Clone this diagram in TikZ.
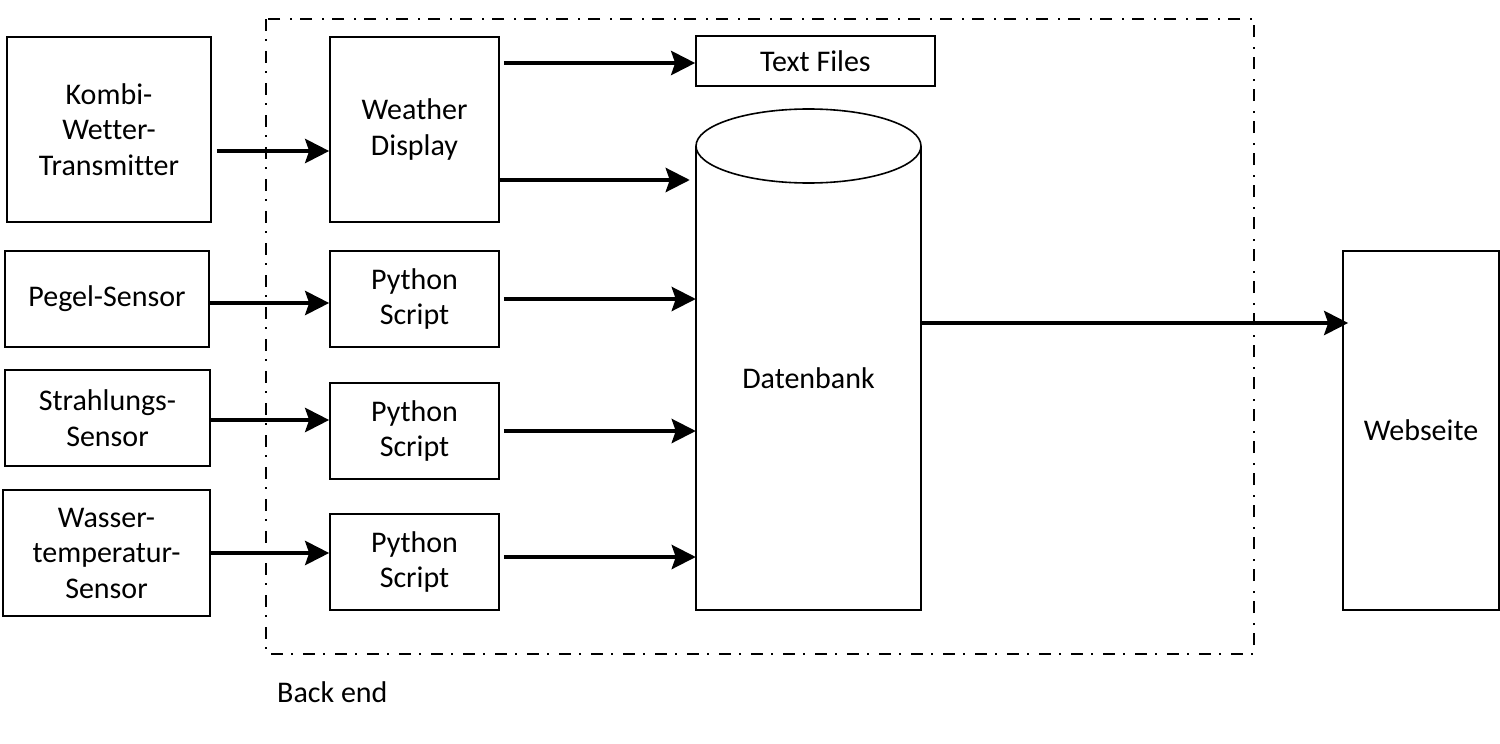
\documentclass[tikz,border=0pt]{standalone}
\usepackage{fontspec}
\setmainfont{Carlito}[Ligatures=NoCommon]
\usetikzlibrary{arrows.meta}
\begin{document}
\begin{tikzpicture}[x=1pt,y=-1pt,
  box/.style={draw,line width=1.6pt,inner sep=0pt,align=center,font=\fontsize{30}{35.5}\selectfont},
  arr/.style={line width=4.5pt,-{Stealth[length=24pt,width=24pt,inset=4pt]}},
  lbl/.style={font=\fontsize{30}{35.5}\selectfont,inner sep=0pt}]
\useasboundingbox (0,0) rectangle (1500,744);
% back end frame
\draw[line width=1.6pt,dash pattern=on 12pt off 8pt on 2pt off 10pt] (266,19) rectangle (1254,654);
\node[lbl,anchor=west] (be) at (277,692) {Back end};
% sources
\node[box,minimum width=204pt,minimum height=185pt] (kombi) at (109,129.5) {Kombi-\\Wetter-\\Transmitter};
\node[box,minimum width=204pt,minimum height=96pt] (pegel) at (107,299) {Pegel-Sensor};
\node[box,minimum width=205pt,minimum height=96pt] (strahl) at (107.5,418) {Strahlungs-\\Sensor};
\node[box,minimum width=207pt,minimum height=126pt] (wasser) at (106.5,553) {Wasser-\\temperatur-\\Sensor};
% processing
\node[box,minimum width=169pt,minimum height=185pt] (wd) at (414.5,129.5) {Weather\\Display};
\node[box,minimum width=169pt,minimum height=96pt] (py1) at (414.5,299) {Python\\Script};
\node[box,minimum width=169pt,minimum height=96pt] (py2) at (414.5,431) {Python\\Script};
\node[box,minimum width=169pt,minimum height=96pt] (py3) at (414.5,562) {Python\\Script};
% outputs
\node[box,minimum width=239pt,minimum height=50pt] (tf) at (815.5,61) {Text Files};
\node[inner sep=0pt,minimum width=225pt,minimum height=500pt] (db) at (808.5,360) {};
\draw[line width=1.6pt] (696,146) -- (696,610) -- (921,610) -- (921,146);
\draw[line width=1.6pt,fill=white] (808.5,146) ellipse (112.5 and 37);
\node[lbl] (dbl) at (808.5,378) {Datenbank};
\node[box,minimum width=156pt,minimum height=359pt] (web) at (1421,430.5) {Webseite};
% arrows
\draw[arr] ([xshift=5pt]kombi.east |- 0,151) -- (wd.west |- 0,151);
\draw[arr] (pegel.east |- 0,303) -- (py1.west |- 0,303);
\draw[arr] (strahl.east |- 0,420) -- (py2.west |- 0,420);
\draw[arr] (wasser.east |- 0,553) -- (py3.west |- 0,553);
\draw[arr] ([xshift=4pt]wd.east |- 0,63) -- (tf.west |- 0,63);
\draw[arr] (wd.east |- 0,180) -- ([xshift=-6pt]db.west |- 0,180);
\draw[arr] ([xshift=4pt]py1.east |- 0,299) -- (db.west |- 0,299);
\draw[arr] ([xshift=4pt]py2.east |- 0,431) -- (db.west |- 0,431);
\draw[arr] ([xshift=4pt]py3.east |- 0,557) -- (db.west |- 0,557);
\draw[arr] (db.east |- 0,323) -- ([xshift=6pt]web.west |- 0,323);
\end{tikzpicture}
\end{document}
